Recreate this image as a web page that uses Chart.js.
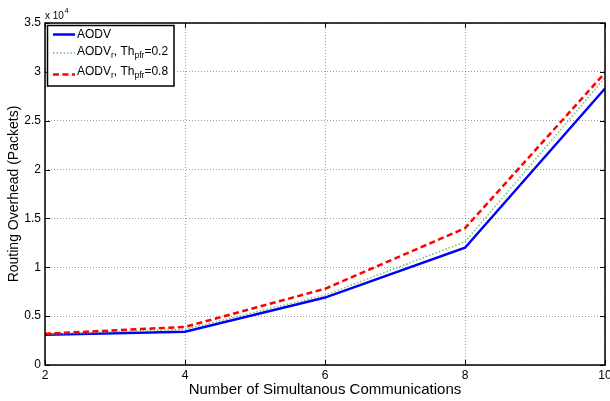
<!DOCTYPE html>
<html>
<head>
<meta charset="utf-8">
<script src="https://cdn.jsdelivr.net/npm/chart.js@4.4.0/dist/chart.umd.min.js"></script>
<style>
  html, body { margin: 0; padding: 0; background: #fff; }
</style>
</head>
<body>
<canvas id="myChart" width="610" height="401"></canvas>
<script>
// number of simultaneous communications
var nodes = [2, 4, 6, 8, 10];
// routing overhead (packets)
var aodv = [3100, 3400, 6900, 12000, 28300];
var aodvR02 = [3150, 3650, 7150, 12600, 29400];
var aodvR08 = [3200, 3900, 7800, 14000, 29900];

var xTicks = [2, 4, 6, 8, 10];
var yTicks = [0, 5000, 10000, 15000, 20000, 25000, 30000, 35000];

// legend labels, split so subscripts can be drawn smaller
var legendRows = [
  [{t: 'AODV'}],
  [{t: 'AODV'}, {t: 'r', sub: true}, {t: ', Th'}, {t: 'pfr', sub: true}, {t: '=0.2'}],
  [{t: 'AODV'}, {t: 'r', sub: true}, {t: ', Th'}, {t: 'pfr', sub: true}, {t: '=0.8'}]
];

const FONT = '"Liberation Sans", Arial, Helvetica, sans-serif';
Chart.defaults.font.family = FONT;
Chart.defaults.color = '#000';

function pts(ys) {
  return nodes.map((n, i) => ({x: n, y: ys[i]}));
}

var series = [
  {label: 'AODV', data: pts(aodv), borderColor: 'rgb(0,0,255)', borderWidth: 2.5, order: 2},
  {label: 'AODVr, Thpfr=0.2', data: pts(aodvR02), borderColor: 'rgb(110,195,110)', borderWidth: 1.5, borderDash: [1.5, 2], order: 1},
  {label: 'AODVr, Thpfr=0.8', data: pts(aodvR08), borderColor: 'rgb(255,0,0)', borderWidth: 2.5, borderDash: [6, 3.5], order: 0}
];

function drawRich(ctx, parts, x, y) {
  parts.forEach(p => {
    ctx.font = (p.sub ? '8.5px ' : '12px ') + FONT;
    ctx.fillText(p.t, x, p.sub ? y + 4 : y);
    x += ctx.measureText(p.t).width;
  });
}

const matlabFrame = {
  id: 'matlabFrame',
  afterDraw(chart) {
    const ctx = chart.ctx;
    const a = chart.chartArea;
    const x = chart.scales.x, y = chart.scales.y;
    ctx.save();
    // inward ticks
    ctx.strokeStyle = '#000';
    ctx.lineWidth = 1;
    ctx.setLineDash([]);
    ctx.beginPath();
    xTicks.forEach(v => {
      const px = Math.round(x.getPixelForValue(v)) + 0.5;
      ctx.moveTo(px, a.bottom); ctx.lineTo(px, a.bottom - 5);
      ctx.moveTo(px, a.top); ctx.lineTo(px, a.top + 5);
    });
    yTicks.forEach(v => {
      const py = Math.round(y.getPixelForValue(v)) + 0.5;
      ctx.moveTo(a.left, py); ctx.lineTo(a.left + 5, py);
      ctx.moveTo(a.right, py); ctx.lineTo(a.right - 5, py);
    });
    ctx.stroke();
    // box
    ctx.lineWidth = 1.5;
    ctx.strokeRect(a.left, a.top, a.right - a.left, a.bottom - a.top);

    // exponent label
    ctx.fillStyle = '#000';
    ctx.textBaseline = 'alphabetic';
    ctx.font = '10px ' + FONT;
    ctx.fillText('x 10', a.left, 18.5);
    const w = ctx.measureText('x 10').width;
    ctx.font = '7.5px ' + FONT;
    ctx.fillText('4', a.left + w + 0.5, 13);

    // legend
    const lx = 47.5, ly = 25.5, lw = 126.5, lh = 60.5;
    ctx.fillStyle = '#fff';
    ctx.fillRect(lx, ly, lw, lh);
    ctx.lineWidth = 1.5;
    ctx.strokeRect(lx, ly, lw, lh);
    const textY = [35, 52, 72];
    const lineY = [34.5, 53, 74.5];
    ctx.textBaseline = 'middle';
    series.forEach((s, i) => {
      ctx.beginPath();
      ctx.strokeStyle = s.borderColor;
      ctx.lineWidth = s.borderWidth;
      ctx.setLineDash(s.borderDash || []);
      ctx.moveTo(53, lineY[i]);
      ctx.lineTo(75, lineY[i]);
      ctx.stroke();
      ctx.setLineDash([]);
      ctx.fillStyle = '#000';
      drawRich(ctx, legendRows[i], 77, textY[i]);
    });
    ctx.restore();
  }
};

new Chart(document.getElementById('myChart'), {
  type: 'line',
  data: {
    datasets: series.map(s => Object.assign({
      fill: false,
      tension: 0,
      pointRadius: 0,
      borderCapStyle: 'butt'
    }, s))
  },
  options: {
    responsive: false,
    animation: false,
    devicePixelRatio: 1,
    layout: {padding: {top: 23, right: 5, left: 0, bottom: 0}},
    plugins: {
      legend: {display: false},
      tooltip: {enabled: false}
    },
    scales: {
      x: {
        type: 'linear',
        min: 2,
        max: 10,
        afterBuildTicks: s => { s.ticks = xTicks.map(v => ({value: v})); },
        ticks: {font: {size: 12}, padding: 3, maxRotation: 0, autoSkip: false},
        grid: {color: 'rgba(0,0,0,0.38)', lineWidth: 1, drawTicks: false},
        border: {display: false, dash: [1, 2]},
        title: {display: true, text: 'Number of Simultanous Communications', font: {size: 15}, padding: {top: 0, bottom: 2}},
        afterFit: s => { s.height = 36; s.paddingLeft = 0; s.paddingRight = 0; }
      },
      y: {
        type: 'linear',
        min: 0,
        max: 35000,
        afterBuildTicks: s => { s.ticks = yTicks.map(v => ({value: v})); },
        ticks: {font: {size: 12}, padding: 4, callback: v => String(v / 10000)},
        grid: {color: 'rgba(0,0,0,0.38)', lineWidth: 1, drawTicks: false},
        border: {display: false, dash: [1, 2]},
        title: {display: true, text: 'Routing Overhead (Packets)', font: {size: 14}, padding: {top: 6, bottom: 0}},
        afterFit: s => { s.width = 45; s.paddingTop = 0; s.paddingBottom = 0; }
      }
    }
  },
  plugins: [matlabFrame]
});
</script>
</body>
</html>
